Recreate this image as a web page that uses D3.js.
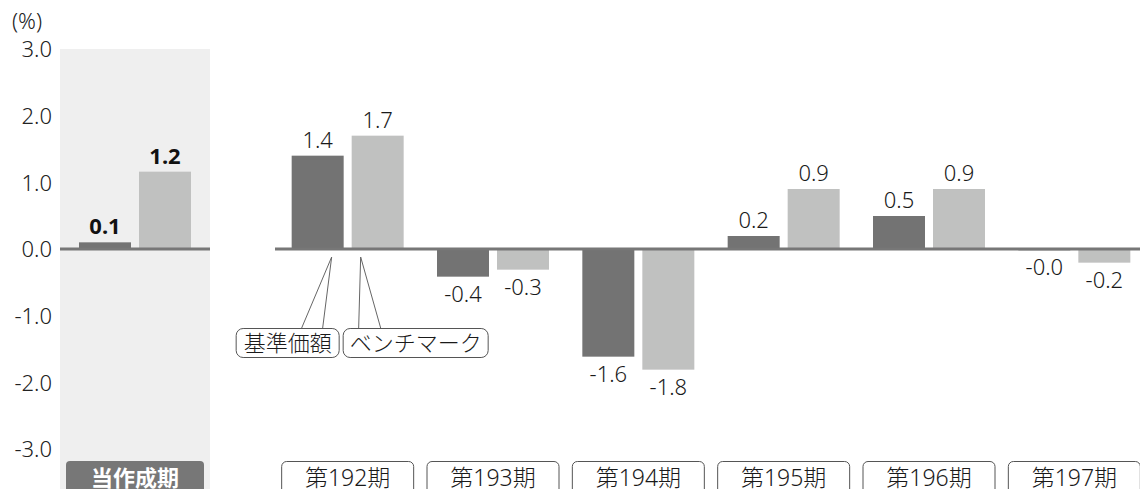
<!DOCTYPE html>
<html><head><meta charset="utf-8">
<script src="https://cdn.jsdelivr.net/npm/d3@7"></script>
<style>
html,body{margin:0;padding:0;background:#fff;}
svg{display:block;font-family:"Noto Sans","Noto Sans CJK JP",sans-serif;font-weight:300;}
</style></head>
<body><svg id="c" width="1140" height="489"></svg>
<script>
const currentLabel = ["当作成期"];
const currentValues = [0.1, 1.16];           // 基準価額, ベンチマーク
const periods = ["第192期","第193期","第194期","第195期","第196期","第197期"];
const navValues = [1.4, -0.415, -1.615, 0.195, 0.495, -0.02];
const benchValues = [1.7, -0.31, -1.81, 0.9, 0.9, -0.205];
const seriesNames = ["基準価額","ベンチマーク"];
const yTicks = [-3,-2,-1,0,1,2,3];
const unitLabel = "(%)";

const colors = ["#737373", "#c0c1c0"];
const fmt = v => (v < 0 ? "-" : "") + Math.abs(v).toFixed(1);

const svg = d3.select("#c");
const y = d3.scaleLinear().domain([-3,3]).range([449,49]);

// current-period panel
const xc = d3.scaleBand().domain(currentLabel).range([60,210]);
const xcIn = d3.scaleBand().domain([0,1]).range([19,131]).paddingInner(0.1333);
// main periods
const xm = d3.scaleBand().domain(periods).range([275,1147]);
const mOff = (xm.bandwidth()-112)/2;
const xmIn = d3.scaleBand().domain([0,1]).range([mOff, mOff+112]).paddingInner(0.1333);

// panel background
svg.append("rect").attr("x",xc.range()[0]).attr("y",y(3))
  .attr("width",xc.bandwidth()).attr("height",489-y(3)).attr("fill","#efefef");

// y axis labels
const yAxis = d3.axisLeft(y).tickValues(yTicks).tickFormat(fmt).tickSize(0).tickPadding(0);
const ga = svg.append("g").attr("transform","translate(52,0)").call(yAxis);
ga.select(".domain").remove();
ga.selectAll("text").attr("font-size",22).attr("fill","#222")
  .attr("font-family",'"Noto Sans","Noto Sans CJK JP",sans-serif').attr("dy","0.35em");
svg.append("text").attr("x",12).attr("y",29).attr("font-size",22).attr("fill","#222").text(unitLabel);

// current bars
const cur = svg.append("g").attr("transform",`translate(${xc(currentLabel[0])},0)`);
currentValues.forEach((v,i)=>{
  cur.append("rect").attr("x",xcIn(i)).attr("width",xcIn.bandwidth())
    .attr("y",y(Math.max(0,v))).attr("height",Math.abs(y(v)-y(0))).attr("fill",colors[i]);
  cur.append("text").attr("x",xcIn(i)+xcIn.bandwidth()/2)
    .attr("y", v>=0 ? y(v)-8 : y(v)+25).attr("text-anchor","middle")
    .attr("font-size",22).attr("font-weight","bold").attr("fill","#111").text(fmt(v));
});

// main bars
const series = [navValues, benchValues];
periods.forEach((p,j)=>{
  const g = svg.append("g").attr("transform",`translate(${xm(p)},0)`);
  series.forEach((vals,i)=>{
    const v = vals[j];
    g.append("rect").attr("x",xmIn(i)).attr("width",xmIn.bandwidth())
      .attr("y",y(Math.max(0,v))).attr("height",Math.abs(y(v)-y(0))).attr("fill",colors[i]);
    g.append("text").attr("x",xmIn(i)+xmIn.bandwidth()/2)
      .attr("y", v>=0 ? y(v)-8 : y(v)+25).attr("text-anchor","middle")
      .attr("font-size",22).attr("fill","#1a1a1a").text(fmt(v));
  });
});

// baselines
svg.append("line").attr("x1",60).attr("x2",210).attr("y1",y(0)).attr("y2",y(0))
  .attr("stroke","#777").attr("stroke-width",3);
svg.append("line").attr("x1",275).attr("x2",1140).attr("y1",y(0)).attr("y2",y(0))
  .attr("stroke","#777").attr("stroke-width",3);

// category label boxes
svg.append("rect").attr("x",xc(currentLabel[0])+6).attr("y",461).attr("width",xc.bandwidth()-12)
  .attr("height",40).attr("rx",4).attr("fill","#777");
svg.append("text").attr("x",xc(currentLabel[0])+xc.bandwidth()/2).attr("y",486)
  .attr("text-anchor","middle").attr("font-size",22).attr("font-weight","bold").attr("fill","#fff")
  .text(currentLabel[0]);
periods.forEach(p=>{
  const cx = xm(p)+xm.bandwidth()/2;
  svg.append("rect").attr("x",cx-66).attr("y",461.5).attr("width",132).attr("height",40)
    .attr("rx",5).attr("fill","#fff").attr("stroke","#555").attr("stroke-width",1);
  svg.append("text").attr("x",cx).attr("y",486).attr("text-anchor","middle")
    .attr("font-size",23).attr("fill","#1a1a1a").text(p);
});

// callouts for first main period
const g0 = xm(periods[0]);
const darkX = g0 + xmIn(0), lightX = g0 + xmIn(1), bw = xmIn.bandwidth();
const ay = y(0)+8, by = 328;
const aDark = darkX + bw - 12, aLight = lightX + 9;
const callouts = [
  {text:seriesNames[0], x0:darkX-56, w:103, ax:aDark, l1:darkX+10, l2:darkX+31},
  {text:seriesNames[1], x0:darkX+51, w:145, ax:aLight, l1:darkX+67, l2:darkX+89}
];
callouts.forEach(c=>{
  svg.append("path").attr("d",`M${c.l1},${by}L${c.ax},${ay}L${c.l2},${by}`)
    .attr("fill","none").attr("stroke","#666").attr("stroke-width",1);
  svg.append("rect").attr("x",c.x0+0.5).attr("y",by+0.5).attr("width",c.w).attr("height",29)
    .attr("rx",7).attr("fill","#fff").attr("stroke","#555").attr("stroke-width",1);
  svg.append("text").attr("x",c.x0+c.w/2+0.5).attr("y",by+23).attr("text-anchor","middle")
    .attr("font-size",22).attr("fill","#1a1a1a").text(c.text);
});
</script></body></html>
